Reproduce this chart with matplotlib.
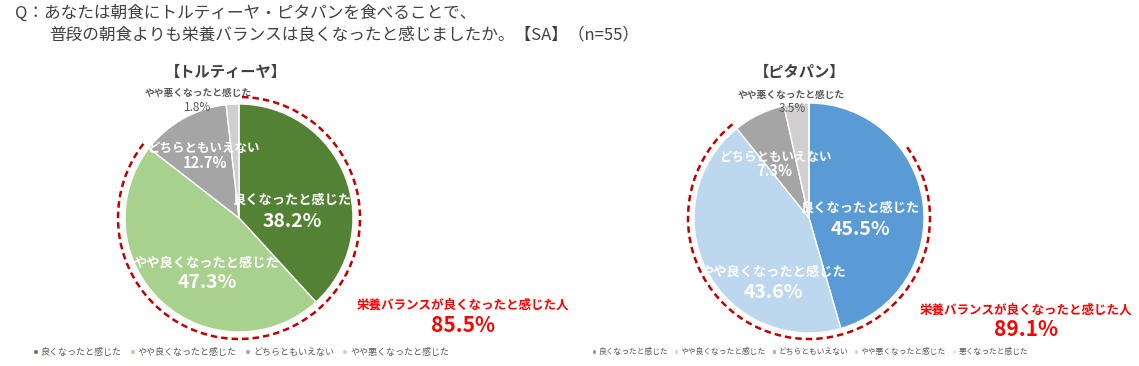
import matplotlib
matplotlib.use("Agg")
import matplotlib.pyplot as plt
from matplotlib.patches import Arc

plt.rcParams['font.family'] = ['Noto Sans CJK JP', 'DejaVu Sans']

# ---------------- data ----------------
question_line1 = "Q：あなたは朝食にトルティーヤ・ピタパンを食べることで、"
question_line2 = "普段の朝食よりも栄養バランスは良くなったと感じましたか。【SA】（n=55）"

titles = ["【トルティーヤ】", "【ピタパン】"]

categories_left = ["良くなったと感じた", "やや良くなったと感じた", "どちらともいえない", "やや悪くなったと感じた"]
values_left = [38.2, 47.3, 12.7, 1.8]

categories_right = ["良くなったと感じた", "やや良くなったと感じた", "どちらともいえない",
                    "やや悪くなったと感じた", "悪くなったと感じた"]
values_right = [45.5, 43.6, 7.3, 3.5, 0.0]

summary_label = "栄養バランスが良くなったと感じた人"
summary_values = [85.5, 89.1]

# ---------------- style ----------------
W, H = 1139, 366
colors_left = ["#548235", "#A9D18E", "#A5A5A5", "#D0CECE"]
colors_right = ["#5B9BD5", "#BDD7EE", "#A5A5A5", "#D0CECE", "#E7E6E6"]

fig = plt.figure(figsize=(W / 100, H / 100), dpi=100)
fig.patch.set_facecolor("white")

L = 1.35


def pie_axes(cx, cy, r):
    return fig.add_axes([(cx - L * r) / W, (H - cy - L * r) / H, 2 * L * r / W, 2 * L * r / H])


def draw_pie(cx, cy, r, values, colors, cats, label_pos, arc_r, arc_end, frac_good):
    ax = pie_axes(cx, cy, r)
    wedges, _ = ax.pie(values, colors=colors, startangle=90, counterclock=False, radius=1.0,
                       wedgeprops=dict(edgecolor="white", linewidth=1.0))
    ax.set_xlim(-L, L)
    ax.set_ylim(-L, L)
    ax.axis("off")
    # labels
    for i, (cat, val) in enumerate(zip(cats, values)):
        if i not in label_pos:
            continue
        (lx, ly), (vx, vy), csize, vsize, col = label_pos[i]
        ax.text((lx - cx) / r, -(ly - cy) / r, cat, ha="center", va="center",
                fontsize=csize, color=col, fontweight="bold")
        ax.text((vx - cx) / r, -(vy - cy) / r, f"{val:.1f}%", ha="center", va="center",
                fontsize=vsize, color=col, fontweight="bold" if col == "white" else "normal")
    # dashed arc
    theta1 = 90 - 360 * frac_good / 100.0
    arc = Arc((0, 0), 2 * arc_r / r, 2 * arc_r / r, theta1=theta1, theta2=arc_end,
              color="#C00000", linewidth=1.8, linestyle=(0, (2.6, 1.6)))
    ax.add_patch(arc)
    return wedges


# left pie
lp = {
    0: ((292, 200), (292, 221), 9.5, 14, "white"),
    1: ((206, 263), (207, 283), 9.5, 14, "white"),
    2: ((203, 148), (205, 163), 9.0, 10.5, "white"),
    3: ((198, 93), (198, 107), 7.0, 8.5, "#595959"),
}
wl = draw_pie(239, 218, 114, values_left, colors_left, categories_left, lp, 121, 90,
              values_left[0] + values_left[1])

# right pie
rp = {
    0: ((860, 208), (860, 229), 9.5, 14, "white"),
    1: ((773, 272), (773, 293), 9.5, 14, "white"),
    2: ((775, 157), (774, 171), 9.0, 10.5, "white"),
    3: ((791, 95), (792, 108), 7.0, 8.5, "#595959"),
}
wr = draw_pie(809, 218, 115, values_right, colors_right, categories_right, rp, 121, 37.5,
              values_right[0] + values_right[1])

# question text
fig.text(15 / W, 1 - 13 / H, question_line1, ha="left", va="center", fontsize=12, color="#404040")
fig.text(49 / W, 1 - 35 / H, question_line2, ha="left", va="center", fontsize=12, color="#404040")

# titles
fig.text(226 / W, 1 - 72 / H, titles[0], ha="center", va="center", fontsize=11,
         fontweight="bold", color="#404040")
fig.text(800 / W, 1 - 72 / H, titles[1], ha="center", va="center", fontsize=11,
         fontweight="bold", color="#404040")

# summary red text
for (sx, sy1, sy2), v in zip([(463, 305, 326), (1026, 310, 330)], summary_values):
    fig.text(sx / W, 1 - sy1 / H, summary_label, ha="center", va="center", fontsize=9,
             fontweight="bold", color="#FF0000")
    fig.text(sx / W, 1 - sy2 / H, f"{v:.1f}%", ha="center", va="center", fontsize=15,
             fontweight="bold", color="#FF0000")

# legends
fig.legend(wl, categories_left, loc="center", bbox_to_anchor=(241 / W, 1 - 352 / H), ncol=4,
           frameon=False, fontsize=6.5, handlelength=0.55, handleheight=0.55, handletextpad=0.35,
           columnspacing=0.9, labelcolor="#595959", borderpad=0, borderaxespad=0)
fig.legend(wr, categories_right, loc="center", bbox_to_anchor=(810 / W, 1 - 352 / H), ncol=5,
           frameon=False, fontsize=5.6, handlelength=0.55, handleheight=0.55, handletextpad=0.35,
           columnspacing=0.7, labelcolor="#595959", borderpad=0, borderaxespad=0)

fig.savefig("out.png", dpi=100, facecolor="white")
